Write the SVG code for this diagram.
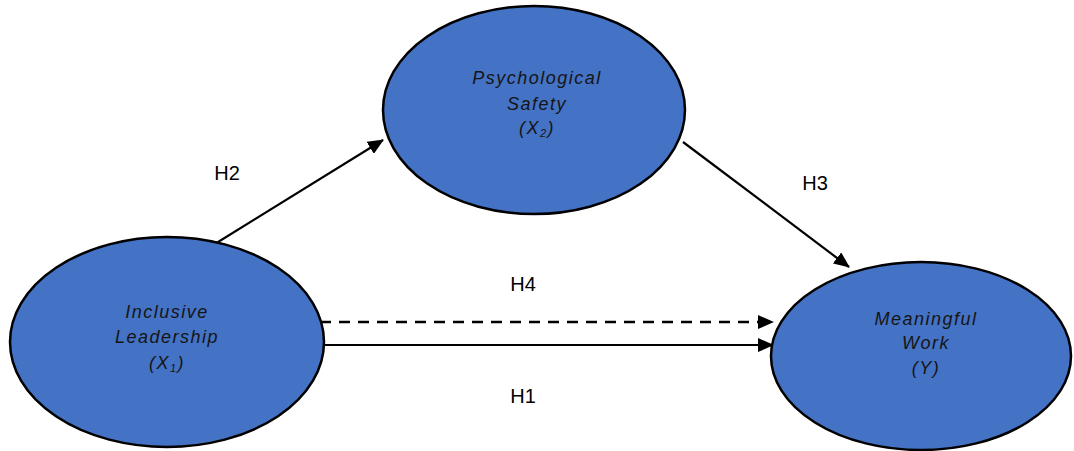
<svg xmlns="http://www.w3.org/2000/svg" width="1074" height="451" viewBox="0 0 1074 451">
<style>
.node{fill:#4472C4;stroke:#000;stroke-width:2.5}
.nt{font-family:"Liberation Sans",Arial,sans-serif;font-style:italic;font-size:18px;letter-spacing:1.5px;fill:#151515;text-anchor:middle}
.lbl{font-family:"Liberation Sans",Arial,sans-serif;font-size:20px;fill:#000;text-anchor:middle}
</style>
<defs>
<marker id="ahb" markerWidth="16" markerHeight="14" refX="15" refY="7" orient="auto" markerUnits="userSpaceOnUse" viewBox="0 0 16 14">
<path d="M0,0 L16,7 L0,14 z" fill="#000"/>
</marker>
</defs>
<g id="connectors">
<line x1="210" y1="247" x2="383" y2="140" stroke="#000" stroke-width="2.2" marker-end="url(#ahb)"/>
<line x1="683" y1="142" x2="849" y2="267" stroke="#000" stroke-width="2.2" marker-end="url(#ahb)"/>
<line x1="320" y1="322" x2="773" y2="322" stroke="#000" stroke-width="2.5" stroke-dasharray="11,8" marker-end="url(#ahb)"/>
<line x1="322" y1="345" x2="773" y2="345" stroke="#000" stroke-width="2.2" marker-end="url(#ahb)"/>
<text class="lbl" x="227" y="180">H2</text>
<text class="lbl" x="815" y="190">H3</text>
<text class="lbl" x="523" y="291">H4</text>
<text class="lbl" x="523" y="403">H1</text>
</g>
<g id="node-psych">
<ellipse class="node" cx="534" cy="110" rx="151" ry="104"/>
<text class="nt" x="537" y="84">Psychological</text>
<text class="nt" x="537" y="110">Safety</text>
<text class="nt" x="537" y="134">(X<tspan font-size="11" dy="3">2</tspan><tspan dy="-3">)</tspan></text>
</g>
<g id="node-inclusive">
<ellipse class="node" cx="167" cy="342" rx="157" ry="105"/>
<text class="nt" x="167" y="318">Inclusive</text>
<text class="nt" x="167" y="343">Leadership</text>
<text class="nt" x="167" y="369">(X<tspan font-size="11" dy="3">1</tspan><tspan dy="-3">)</tspan></text>
</g>
<g id="node-meaningful">
<ellipse class="node" cx="921" cy="356" rx="150" ry="94"/>
<text class="nt" x="926" y="325">Meaningful</text>
<text class="nt" x="926" y="349">Work</text>
<text class="nt" x="926" y="374">(Y)</text>
</g>
</svg>
